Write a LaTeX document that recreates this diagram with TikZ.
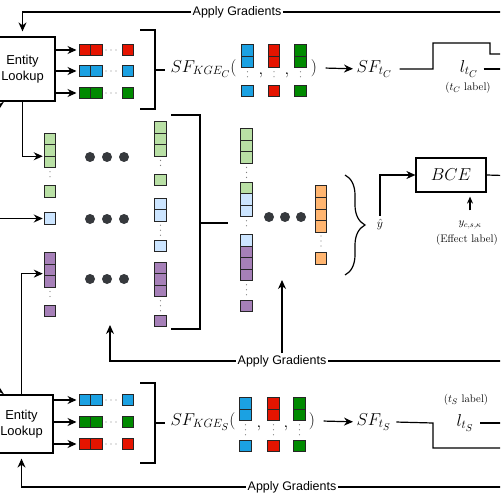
\documentclass[tikz,border=0pt]{standalone}
\usepackage{fontspec}
\newfontfamily\helv{Liberation Sans}
\usetikzlibrary{arrows.meta,calc,decorations.pathreplacing}

\definecolor{kred}{HTML}{E51400}
\definecolor{kblue}{HTML}{1BA1E2}
\definecolor{kgreen}{HTML}{008A00}
\definecolor{lgreen}{HTML}{B9E0A5}
\definecolor{lblue}{HTML}{CCE5FF}
\definecolor{lpurple}{HTML}{A680B8}
\definecolor{lorange}{HTML}{FFB570}
\definecolor{dotgray}{HTML}{36393D}

\tikzset{
    cell/.style={draw=black!85, line width=1bp, minimum size=11.5bp, inner sep=0pt},
    hdots/.style={draw=gray, line width=1.4bp, line cap=round, dash pattern=on 0pt off 5bp, shorten <=3.5bp, shorten >=3.5bp},
    vdots/.style={hdots},
    bigdot/.style={circle, fill=dotgray, minimum size=10bp, inner sep=0pt},
    lookup/.style={draw, line width=1.2bp, align=center, font=\helv\fontsize{13}{16}\selectfont, inner sep=0pt},
    grad/.style={font=\helv\fontsize{12.5}{15}\selectfont, inner sep=1.5bp},
    mtxt/.style={font=\fontsize{17.28}{20}\selectfont, inner sep=0pt},
    small/.style={font=\fontsize{11}{13}\selectfont, inner sep=0pt},
    bracket/.style={line width=2bp},
}

\begin{document}
\begin{tikzpicture}[x=1bp, y=-1bp, line width=1.2bp, >={Stealth[length=9bp,width=8bp]}]
    \useasboundingbox (0,0) rectangle (500,500);
    \clip (0,0) rectangle (500,500);

    % upper lookup
    \node[lookup, minimum width=65bp, minimum height=64bp] (ELC) at (22.5,69) {Entity\\Lookup};
    \foreach \c/\y/\n in {kred/50/1,kblue/71/2,kgreen/93/3} {
        \node[cell, fill=\c] (RCa\n) at (84.75,\y) {};
        \node[cell, fill=\c] (RCb\n) at (96.25,\y) {};
        \node[cell, fill=\c] (RCc\n) at (128,\y) {};
        \draw[hdots] (RCb\n.east) -- (RCc\n.west);
        \draw[->, shorten >=2bp] (ELC.east |- RCa\n) -- (RCa\n);
    }
    \draw[bracket] (140,30) -- (155,30) -- (155,109) -- (140,109);
    \draw[bracket] (155,70) -- (165,70);
    \node[mtxt, anchor=mid west] (SFKC) at (170,70) {$SF_{KGE_C}($};
    \foreach \c/\x/\n in {kblue/247.5/1,kred/274/2,kgreen/300.5/3} {
        \node[cell, fill=\c] (SCa\n) at (\x,50.5) {};
        \node[cell, fill=\c] (SCb\n) at (\x,62) {};
        \node[cell, fill=\c] (SCc\n) at (\x,91) {};
        \draw[vdots] (SCb\n.south) -- (SCc\n.north);
    }
    \node[mtxt, anchor=mid] (CMC1) at (261,72) {$,$};
    \node[mtxt, anchor=mid] (CMC2) at (287,72) {$,$};
    \node[mtxt, anchor=mid] (RPC) at (314,70) {$)$};
    \node[mtxt, anchor=mid west] (SFTC) at (356,70) {$SF_{t_C}$};
    \draw[->, shorten <=8bp, shorten >=3bp] (RPC.east) -- (SFTC.west);
    \node[mtxt] (LC) at (469,69) {$l_{t_C}$};
    \node[small] (LCL) at (468,88) {($t_C$ label)};
    \coordinate (outC1) at (520,54);
    \coordinate (outC2) at (520,69);
    \draw[shorten <=7bp] (SFTC.east) -- (433,69) -- (433,43) -- (490,43) |- (outC1);
    \draw[shorten <=5bp] (LC.east) -- (outC2);

    % gradients to upper lookup
    \node[grad] (AGC) at (237,12) {Apply Gradients};
    \coordinate (gC) at (520,12);
    \draw (gC) -- (AGC.east);
    \draw[->, shorten >=5bp] (AGC.west) -| (ELC.north);

    % first columns
    \foreach \y/\n in {139/1,150.5/2,162/3,191.5/4} \node[cell, fill=lgreen] (GA\n) at (50,\y) {};
    \draw[vdots] (GA3.south) -- (GA4.north);
    \node[cell, fill=lblue] (BA1) at (50,218.5) {};
    \foreach \y/\n in {258.7/1,270.2/2,281.7/3,311/4} \node[cell, fill=lpurple] (PA\n) at (50,\y) {};
    \draw[vdots] (PA3.south) -- (PA4.north);

    % second columns
    \foreach \y/\n in {127.7/1,139.2/2,150.7/3,180/4} \node[cell, fill=lgreen] (GB\n) at (160.5,\y) {};
    \draw[vdots] (GB3.south) -- (GB4.north);
    \foreach \y/\n in {204/1,215.5/2,246/3} \node[cell, fill=lblue] (BB\n) at (160.5,\y) {};
    \draw[vdots] (BB2.south) -- (BB3.north);
    \foreach \y/\n in {268/1,279.5/2,291/3,321/4} \node[cell, fill=lpurple] (PB\n) at (160.5,\y) {};
    \draw[vdots] (PB3.south) -- (PB4.north);

    % dots between columns
    \foreach \y/\n in {157/1,219/2,279/3} {
        \node[bigdot] (DLa\n) at (90,\y) {};
        \node[bigdot] (DLb\n) at (107,\y) {};
        \node[bigdot] (DLc\n) at (124,\y) {};
    }

    % arrows into the first columns
    \draw[->, shorten >=1bp] (ELC.south) |- ($(GA2.west)!0.5!(GA3.west)$);
    \coordinate (bIn) at (-20,218.5);
    \draw[->, shorten >=1bp] (bIn) -- (BA1.west);

    % concatenation
    \draw[bracket] (171,115) -- (200,115) -- (200,329) -- (171,329);
    \draw[bracket] (200,223) -- (228,223);
    \foreach \y/\n in {134.7/1,146.2/2,157.7/3,188/4} \node[cell, fill=lgreen] (GK\n) at (246.5,\y) {};
    \draw[vdots] (GK3.south) -- (GK4.north);
    \foreach \y/\n in {199.5/1,211/2,240.5/3} \node[cell, fill=lblue] (BK\n) at (246.5,\y) {};
    \draw[vdots] (BK2.south) -- (BK3.north);
    \foreach \y/\n in {252/1,263.5/2,275/3,306/4} \node[cell, fill=lpurple] (PK\n) at (246.5,\y) {};
    \draw[vdots] (PK3.south) -- (PK4.north);
    \node[bigdot] (DMa) at (269,217) {};
    \node[bigdot] (DMb) at (285,217) {};
    \node[bigdot] (DMc) at (301,217) {};
    \foreach \y/\n in {191.75/1,203.25/2,214.75/3,226.25/4,258.5/5} \node[cell, fill=lorange] (OK\n) at (321,\y) {};
    \draw[vdots] (OK4.south) -- (OK5.north);
    \draw[decorate, decoration={brace, amplitude=20bp}] (345,175) -- (345,275);

    % effect prediction
    \node[font=\fontsize{13}{15}\selectfont] (YH) at (380,225) {$\hat{y}$};
    \node[draw, minimum width=70bp, minimum height=34bp, mtxt] (BCE) at (451,175) {$BCE$};
    \draw[->] (YH.north) |- (BCE.west);
    \node[small] (YL) at (470,225) {$y_{c,s,\kappa}$};
    \node[small] (EL) at (467,240) {(Effect label)};
    \draw[->, >={Stealth[length=7bp,width=6bp]}, shorten <=10bp, shorten >=4bp] (YL.north) -- (YL.north |- BCE.south);
    \coordinate (outB) at (520,176);
    \draw (BCE.east) -- (outB);

    % gradients to the columns
    \node[grad] (AGM) at (282,361) {Apply Gradients};
    \coordinate (gM) at (520,361);
    \coordinate (tM1) at (110,325);
    \coordinate (tM2) at (282,280);
    \draw (gM) -- (AGM.east);
    \draw[->] (AGM.west) -| (tM1);
    \draw[->] (AGM.north) -- (tM2);

    % lower lookup
    \node[lookup, minimum width=63bp, minimum height=58bp] (ELS) at (21.5,424) {Entity\\Lookup};
    \draw[->, shorten >=1bp] (ELS.north) |- ($(PA2.west)!0.3!(PA3.west)$);
    \foreach \c/\y/\n in {kblue/400/1,kgreen/422/2,kred/444/3} {
        \node[cell, fill=\c] (RSa\n) at (84.75,\y) {};
        \node[cell, fill=\c] (RSb\n) at (96.25,\y) {};
        \node[cell, fill=\c] (RSc\n) at (128,\y) {};
        \draw[hdots] (RSb\n.east) -- (RSc\n.west);
        \draw[->, shorten >=2bp] (ELS.east |- RSa\n) -- (RSa\n);
    }
    \draw[bracket] (140,383) -- (155,383) -- (155,463) -- (140,463);
    \draw[bracket] (155,423) -- (165,423);
    \node[mtxt, anchor=mid west] (SFKS) at (170,423) {$SF_{KGE_S}($};
    \foreach \c/\x/\n in {kblue/245.5/1,kred/273.5/2,kgreen/299.5/3} {
        \node[cell, fill=\c] (SSa\n) at (\x,403.5) {};
        \node[cell, fill=\c] (SSb\n) at (\x,415) {};
        \node[cell, fill=\c] (SSc\n) at (\x,446) {};
        \draw[vdots] (SSb\n.south) -- (SSc\n.north);
    }
    \node[mtxt, anchor=mid] (CMS1) at (259,425) {$,$};
    \node[mtxt, anchor=mid] (CMS2) at (286,425) {$,$};
    \node[mtxt, anchor=mid] (RPS) at (312,423) {$)$};
    \node[mtxt, anchor=mid west] (SFTS) at (356,423) {$SF_{t_S}$};
    \draw[->, shorten <=8bp, shorten >=3bp] (RPS.east) -- (SFTS.west);
    \node[mtxt] (LS) at (465,423) {$l_{t_S}$};
    \node[small] (LSL) at (466,400) {($t_S$ label)};
    \coordinate (outS1) at (520,448);
    \coordinate (outS2) at (520,423);
    \draw[shorten <=5bp] (SFTS.east) -- (433,423) |- (outS1);
    \draw[shorten <=6bp] (LS.east) -- (outS2);

    % gradients to lower lookup
    \node[grad] (AGS) at (292,487) {Apply Gradients};
    \coordinate (gS) at (520,487);
    \draw (gS) -- (AGS.east);
    \draw[->, shorten >=5bp] (AGS.west) -| (ELS.south);

    % link between the two lookups
    \draw[{Stealth[reversed,length=8bp,width=10bp]}-{Stealth[reversed,length=8bp,width=10bp]}] (ELC.south -| -1,0) -- (ELS.north -| -1,0);
\end{tikzpicture}
\end{document}
